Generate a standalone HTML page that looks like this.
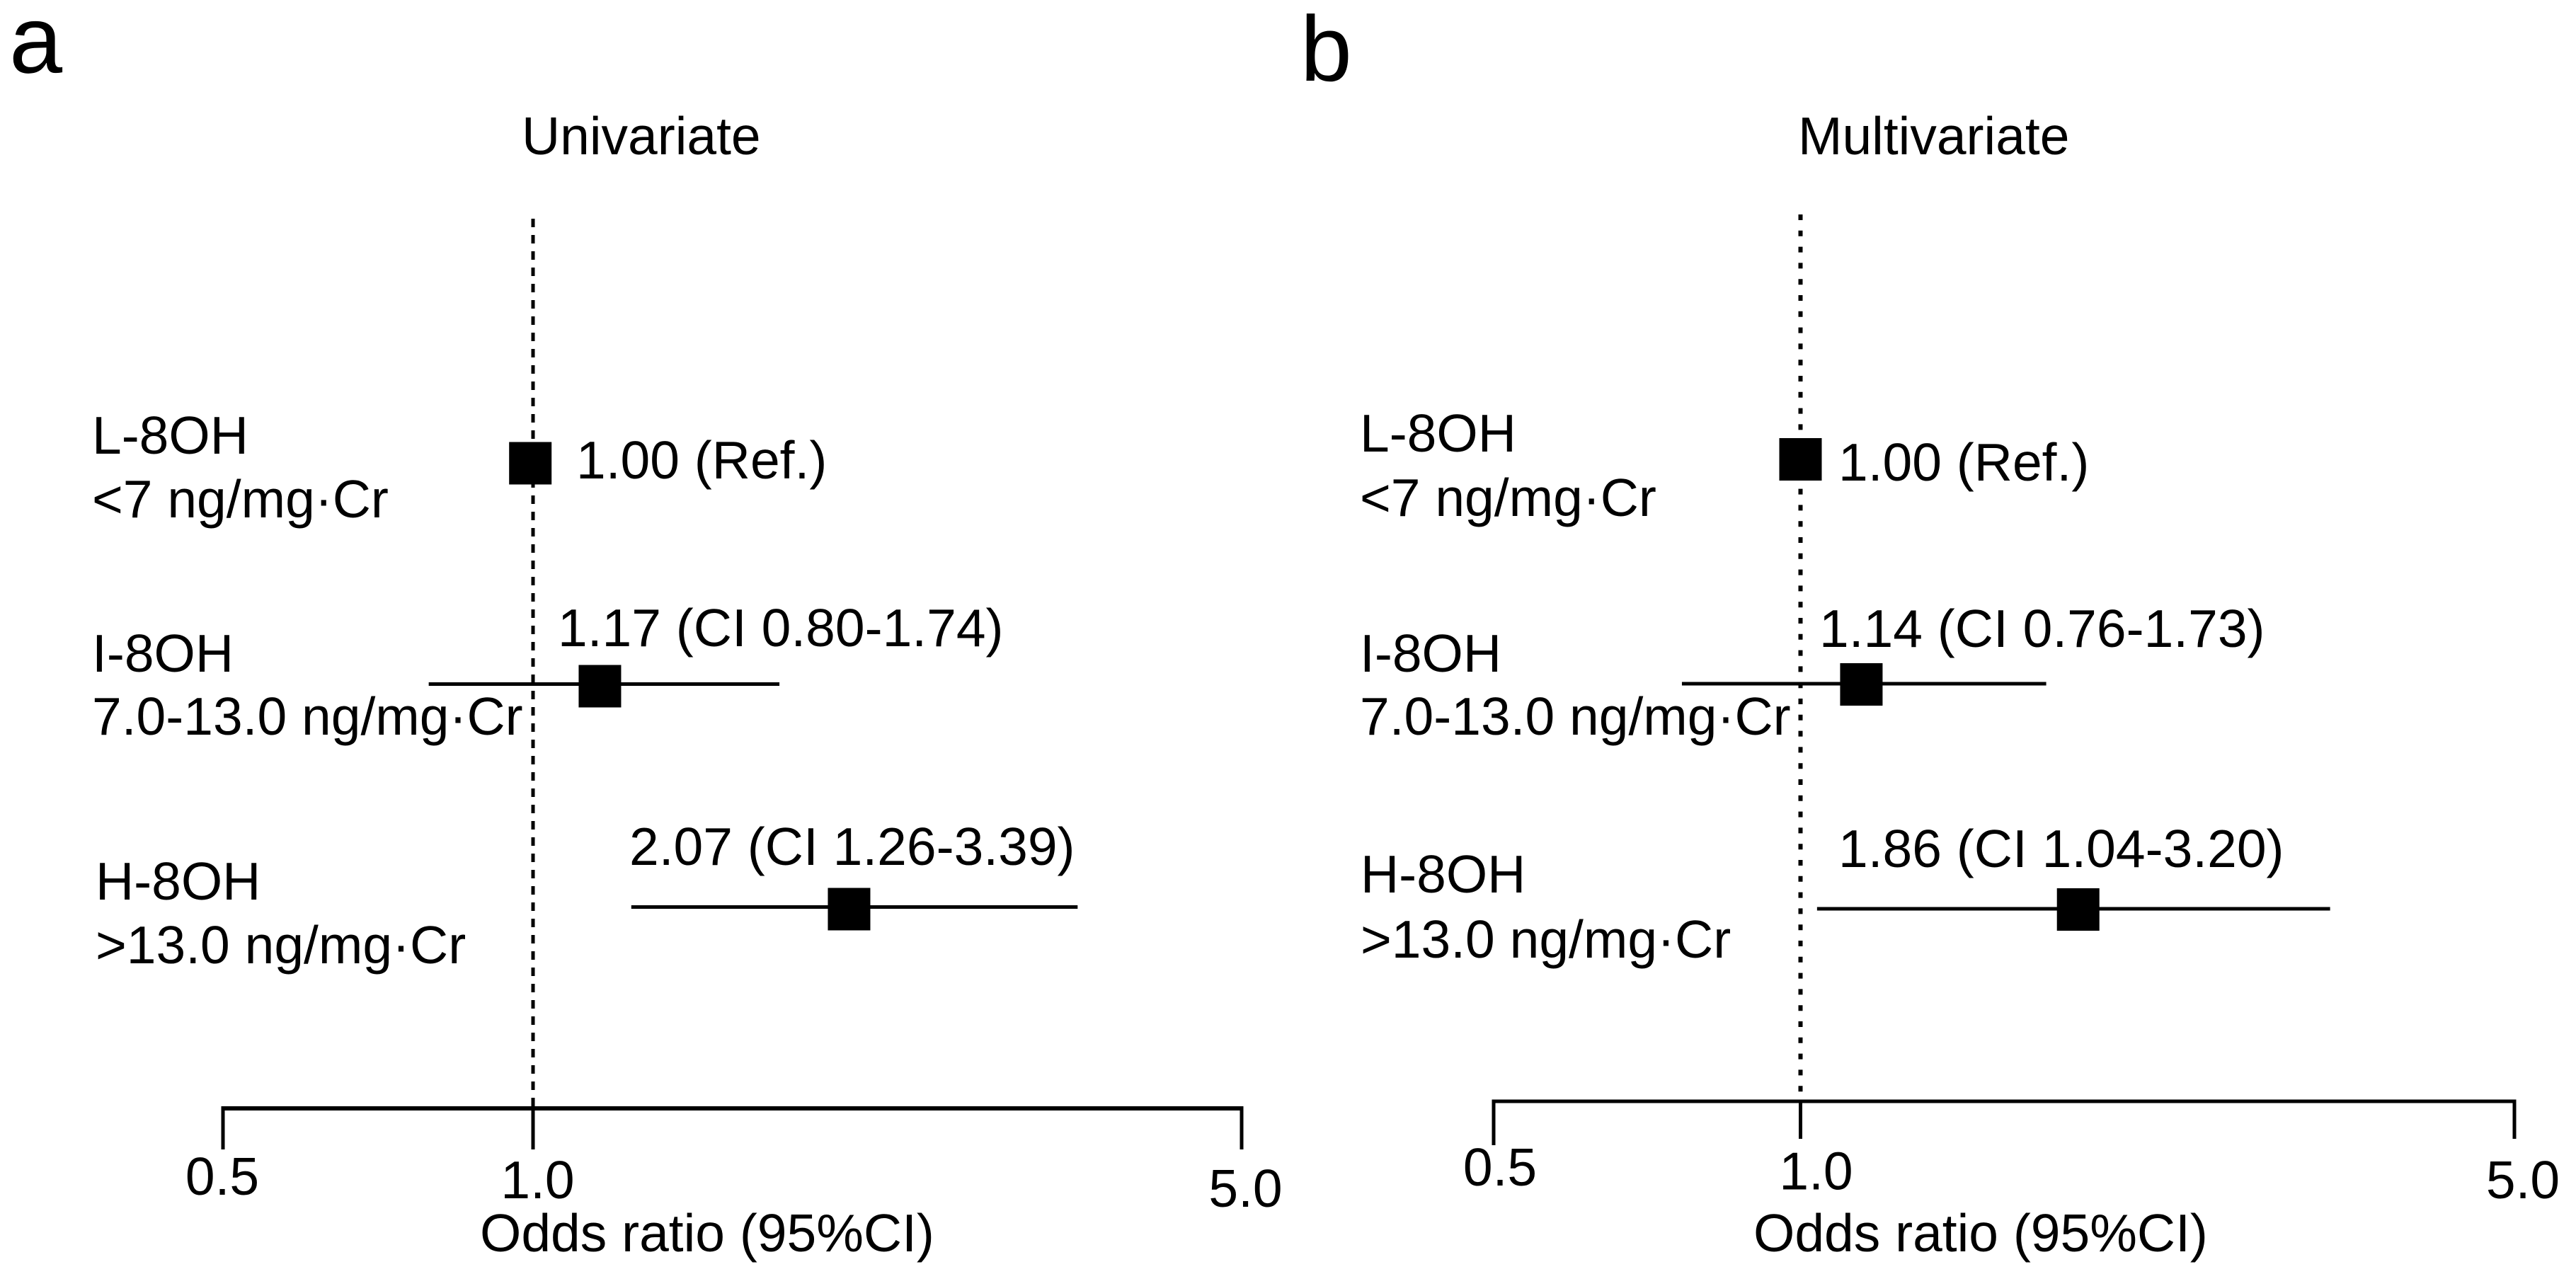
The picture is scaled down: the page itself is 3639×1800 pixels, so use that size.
<!DOCTYPE html>
<html lang="en">
<head>
<meta charset="utf-8">
<title>Odds ratio forest plots</title>
<style>
  html, body { margin: 0; padding: 0; background: #ffffff; }
  svg { display: block; }
  text { font-family: "Liberation Sans", Arial, sans-serif; font-size: 75px; fill: #000000; }
  .letter-a { font-size: 135px; }
  .letter-b { font-size: 131px; }
</style>
</head>
<body>
<svg id="chart" xmlns="http://www.w3.org/2000/svg" width="3639" height="1800" viewBox="0 0 3639 1800">
  <rect x="0" y="0" width="3639" height="1800" fill="#ffffff"/>

  <g id="panel-a">
    <text class="letter-a" x="13" y="102.5">a</text>
    <text x="737" y="218">Univariate</text>
    <text x="130" y="641">L-8OH</text>
    <text x="130" y="731">&lt;7 ng/mg·Cr</text>
    <text x="130" y="949">I-8OH</text>
    <text x="130" y="1038">7.0-13.0 ng/mg·Cr</text>
    <text x="135" y="1271">H-8OH</text>
    <text x="135" y="1361">&gt;13.0 ng/mg·Cr</text>
    <text x="814" y="676">1.00 (Ref.)</text>
    <text x="788" y="913">1.17 (CI 0.80-1.74)</text>
    <text x="889" y="1222">2.07 (CI 1.26-3.39)</text>
    <text x="678" y="1768">Odds ratio (95%CI)</text>
  </g>

  <g id="panel-b">
    <text class="letter-b" x="1837" y="114">b</text>
    <text x="2540" y="218">Multivariate</text>
    <text x="1921" y="638">L-8OH</text>
    <text x="1921" y="729">&lt;7 ng/mg·Cr</text>
    <text x="1921" y="949">I-8OH</text>
    <text x="1921" y="1038">7.0-13.0 ng/mg·Cr</text>
    <text x="1922" y="1261">H-8OH</text>
    <text x="1922" y="1353">&gt;13.0 ng/mg·Cr</text>
    <text x="2597" y="679">1.00 (Ref.)</text>
    <text x="2570" y="914">1.14 (CI 0.76-1.73)</text>
    <text x="2597" y="1225">1.86 (CI 1.04-3.20)</text>
    <text x="2477" y="1768">Odds ratio (95%CI)</text>
  </g>
</svg>

<script>
// Chart data
const categories = ['L-8OH', 'I-8OH', 'H-8OH'];
const tickValues = [0.5, 1.0, 5.0];
const tickLabels = ['0.5', '1.0', '5.0'];

const univariateOdds = [0.994, 1.164, 2.05];
const univariateLower = [null, 0.792, 1.25];
const univariateUpper = [null, 1.75, 3.445];

const multivariateOdds = [1.0, 1.147, 1.87];
const multivariateLower = [null, 0.765, 1.038];
const multivariateUpper = [null, 1.74, 3.30];

const SVG_NS = 'http://www.w3.org/2000/svg';

function makeLogAxis(left, mid, right) {
  return function (v) {
    if (v < 1) return mid + (mid - left) * Math.log2(v);
    return mid + (right - mid) * Math.log(v) / Math.log(5);
  };
}

function addLine(parent, x1, y1, x2, y2, width, dash) {
  const el = document.createElementNS(SVG_NS, 'line');
  el.setAttribute('x1', x1);
  el.setAttribute('y1', y1);
  el.setAttribute('x2', x2);
  el.setAttribute('y2', y2);
  el.setAttribute('stroke', '#000000');
  el.setAttribute('stroke-width', width);
  if (dash) el.setAttribute('stroke-dasharray', dash);
  parent.appendChild(el);
  return el;
}

function drawPanel(cfg) {
  const g = document.getElementById(cfg.id);
  const x = makeLogAxis(cfg.axisLeft, cfg.axisMid, cfg.axisRight);
  const rowY = function (i) { return cfg.rowStart + cfg.rowStep * i; };

  const ref = addLine(g, x(1), cfg.refTop, x(1), cfg.axisY, cfg.refWidth, cfg.refDash);
  
  

  const axis = addLine(g, x(tickValues[0]) - 2.5, cfg.axisY, x(tickValues[tickValues.length - 1]) + 2.5, cfg.axisY, cfg.axisWidth);
  
  

  tickValues.forEach(function (v, i) {
    const tx = x(v);
    const tick = addLine(g, tx, cfg.axisY, tx, cfg.axisY + cfg.tickLength + (i === 0 ? cfg.firstTickExtra : 0), cfg.tickWidth);
    
    

    const label = document.createElementNS(SVG_NS, 'text');
    label.setAttribute('x', tx + cfg.tickLabelNudge[i]);
    label.setAttribute('y', cfg.tickLabelBase + cfg.tickLabelTilt * (tx - cfg.axisLeft));
    label.setAttribute('text-anchor', 'middle');
    
    
    label.textContent = tickLabels[i];
    g.appendChild(label);
  });

  categories.forEach(function (name, i) {
    const y = rowY(i);
    if (cfg.lower[i] !== null && cfg.upper[i] !== null) {
      const ci = addLine(g, x(cfg.lower[i]), y + cfg.ciOffset, x(cfg.upper[i]), y + cfg.ciOffset, cfg.ciWidth);
      
      
    }
    const sq = document.createElementNS(SVG_NS, 'rect');
    sq.setAttribute('x', x(cfg.odds[i]) - cfg.markerSize / 2);
    sq.setAttribute('y', y - cfg.markerSize / 2);
    sq.setAttribute('width', cfg.markerSize);
    sq.setAttribute('height', cfg.markerSize);
    sq.setAttribute('fill', '#000000');
    
    
    g.appendChild(sq);
  });
}

drawPanel({
  id: 'panel-a',
  odds: univariateOdds, lower: univariateLower, upper: univariateUpper,
  axisLeft: 315, axisMid: 753, axisRight: 1754,
  axisY: 1566, axisWidth: 6, tickWidth: 5, tickLength: 58, firstTickExtra: 0,
  refTop: 309, refWidth: 5, refDash: '12 11',
  rowStart: 654.5, rowStep: 315, ciOffset: -3, ciWidth: 5, markerSize: 60,
  tickLabelBase: 1688, tickLabelTilt: 0.0118, tickLabelNudge: [-1, 6.5, 5.5]
});

drawPanel({
  id: 'panel-b',
  odds: multivariateOdds, lower: multivariateLower, upper: multivariateUpper,
  axisLeft: 2110, axisMid: 2543.5, axisRight: 3552,
  axisY: 1556, axisWidth: 5, tickWidth: 5, tickLength: 53, firstTickExtra: 9,
  refTop: 303, refWidth: 6, refDash: '8 14.8',
  rowStart: 649, rowStep: 318, ciOffset: -1, ciWidth: 5, markerSize: 60,
  tickLabelBase: 1675, tickLabelTilt: 0.0125, tickLabelNudge: [9, 22, 12]
});
</script>
</body>
</html>
